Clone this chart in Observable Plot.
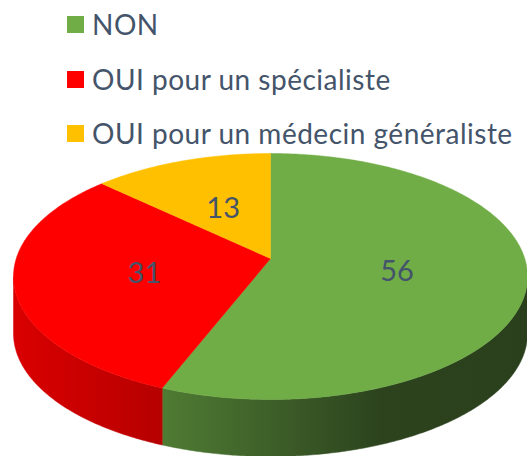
<!DOCTYPE html>
<html>
<head>
<meta charset="utf-8">
<script src="https://cdn.jsdelivr.net/npm/d3@7"></script>
<script src="https://cdn.jsdelivr.net/npm/@observablehq/plot@0.6"></script>
<style>
  html, body { margin: 0; padding: 0; background: #fff; }
  #wrap { width: 527px; height: 456px; overflow: hidden; }
  #legend { height: 150px; position: relative; font-family: Lato, "Open Sans", sans-serif; color: #44546A; }
  .item { position: absolute; left: 67px; display: flex; align-items: center; height: 30px; font-size: 28px; letter-spacing: 0.5px; white-space: nowrap; }
  .sw { width: 17px; height: 17px; margin-right: 8px; flex: none; }
  svg { display: block; }
</style>
</head>
<body>
<div id="wrap">
  <div id="legend"></div>
  <div id="chart"></div>
</div>
<script>
const categories = ["NON", "OUI pour un spécialiste", "OUI pour un médecin généraliste"];
const values = [56, 31, 13];
const colors = ["#70AD47", "#FF0000", "#FFC000"];
const sideGradients = [
  [["0%", "#4F7B33"], ["60%", "#2C431E"], ["100%", "#2A401C"]],
  [["0%", "#DA0000"], ["100%", "#B60000"]],
  [["0%", "#D9A300"], ["100%", "#B58800"]]
];

// Legend (HTML above the SVG)
const legend = document.getElementById("legend");
const rowCenters = [24, 79, 133];
categories.forEach((c, i) => {
  const d = document.createElement("div");
  d.className = "item";
  d.style.top = (rowCenters[i] - 15) + "px";
  d.innerHTML = `<span class="sw" style="background:${colors[i]}"></span><span>${c}</span>`;
  legend.appendChild(d);
});

// Perspective view of a unit circle onto a unit ellipse (image units)
const depth = 0.463;
const h = -0.146; // image position of the pie centre
const T = (u, v) => ({x: u * Math.sqrt(1 - h * h) / (1 + h * v), y: (v + h) / (1 + h * v)});
const imgAngle = a => {
  if (a >= 2 * Math.PI - 1e-9) return 2 * Math.PI;
  const p = T(Math.sin(a), -Math.cos(a));
  let t = Math.atan2(p.x, -p.y);
  if (t < 0) t += 2 * Math.PI;
  return t;
};
const ept = (t, dy = 0) => ({x: Math.sin(t), y: -Math.cos(t) + dy});
const arcPoints = (t0, t1, dy = 0) => {
  const n = Math.max(2, Math.ceil((t1 - t0) / 0.01));
  return d3.range(n + 1).map(k => ept(t0 + (t1 - t0) * k / n, dy));
};

const arcs = d3.pie().sort(null)(values);
const spans = arcs.map(a => [imgAngle(a.startAngle), imgAngle(a.endAngle)]);
const apex = T(0, 0);

const tops = spans.map(([t0, t1]) => [apex, ...arcPoints(t0, t1), apex]);
const sides = spans.map(([t0, t1]) => {
  const s = Math.max(t0, Math.PI / 2), e = Math.min(t1, 3 * Math.PI / 2);
  if (e <= s) return null;
  const upper = arcPoints(s, e);
  const lower = arcPoints(s, e, depth).reverse();
  return [...upper, ...lower, upper[0]];
});

const labels = arcs.map((a, i) => {
  const m = (a.startAngle + a.endAngle) / 2;
  const p = T(0.5 * Math.sin(m), 0.5 * -Math.cos(m));
  return {x: p.x, y: p.y, text: String(values[i])};
});

const defs = () => {
  const g = d3.create("svg:defs");
  sideGradients.forEach((stops, i) => {
    const lg = g.append("linearGradient").attr("id", "side" + i).attr("x1", 0).attr("x2", 1).attr("y1", 0).attr("y2", 0);
    stops.forEach(([o, c]) => lg.append("stop").attr("offset", o).attr("stop-color", c));
  });
  return g.node();
};

const marks = [defs];
sides.forEach((s, i) => {
  if (s) marks.push(Plot.line(s, {x: "x", y: "y", fill: `url(#side${i})`, stroke: `url(#side${i})`, strokeWidth: 0.5, curve: "linear"}));
});
tops.forEach((t, i) => {
  marks.push(Plot.line(t, {x: "x", y: "y", fill: colors[i], stroke: colors[i], strokeWidth: 0.5, curve: "linear"}));
});
marks.push(Plot.text(labels, {x: "x", y: "y", text: "text", fill: "#44546A", fontSize: 29, fontFamily: "Lato, 'Open Sans', sans-serif", textAnchor: "middle", lineAnchor: "middle", dy: 2}));

const chart = Plot.plot({
  width: 527,
  height: 306,
  margin: 0,
  x: {domain: [-1, 1], range: [13, 527], axis: null},
  y: {domain: [-1, 1], range: [3, 249], axis: null},
  marks
});
document.getElementById("chart").appendChild(chart);
</script>
</body>
</html>
